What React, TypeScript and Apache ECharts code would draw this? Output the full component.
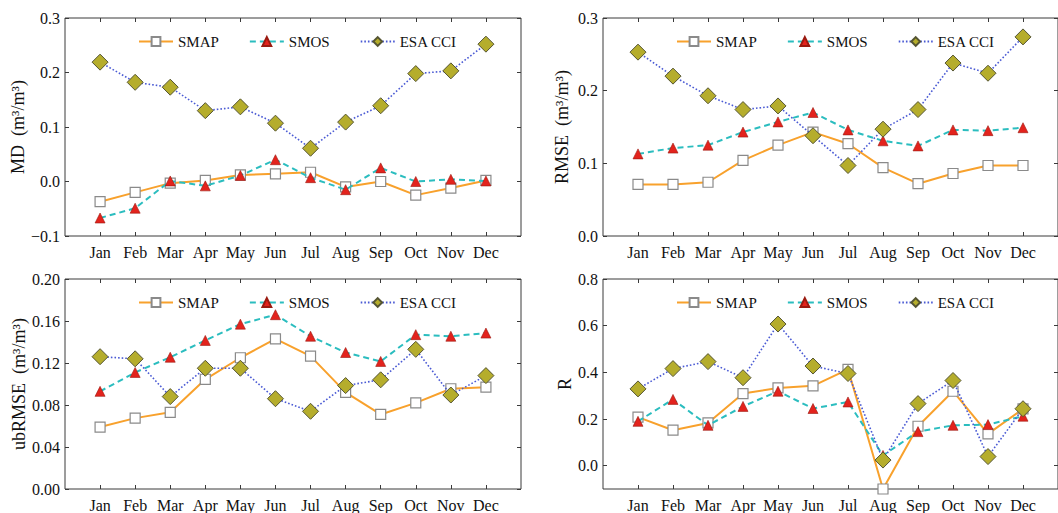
import React, { useEffect, useRef } from "react";
import * as echarts from "echarts";

const months = ["Jan", "Feb", "Mar", "Apr", "May", "Jun", "Jul", "Aug", "Sep", "Oct", "Nov", "Dec"];
const seriesNames = ["SMAP", "SMOS", "ESA CCI"];

// MD
const mdSMAP = [-0.037, -0.02, -0.003, 0.002, 0.012, 0.014, 0.017, -0.01, 0.0, -0.025, -0.012, 0.002];
const mdSMOS = [-0.067, -0.049, 0.001, -0.008, 0.011, 0.04, 0.007, -0.015, 0.025, 0.0, 0.004, 0.001];
const mdESA = [0.219, 0.182, 0.173, 0.13, 0.137, 0.107, 0.061, 0.109, 0.139, 0.198, 0.203, 0.252];
// RMSE
const rmseSMAP = [0.071, 0.071, 0.074, 0.104, 0.125, 0.143, 0.127, 0.094, 0.072, 0.086, 0.097, 0.097];
const rmseSMOS = [0.113, 0.121, 0.125, 0.143, 0.157, 0.17, 0.146, 0.131, 0.124, 0.146, 0.145, 0.149];
const rmseESA = [0.253, 0.22, 0.193, 0.174, 0.179, 0.138, 0.097, 0.147, 0.174, 0.238, 0.224, 0.274];
// ubRMSE
const ubSMAP = [0.059, 0.0675, 0.073, 0.1045, 0.125, 0.143, 0.1265, 0.092, 0.071, 0.082, 0.0955, 0.097];
const ubSMOS = [0.093, 0.111, 0.1255, 0.1415, 0.157, 0.166, 0.1455, 0.13, 0.1215, 0.147, 0.1455, 0.1485];
const ubESA = [0.126, 0.124, 0.088, 0.115, 0.115, 0.086, 0.074, 0.0985, 0.104, 0.133, 0.0895, 0.108];
// R
const rSMAP = [0.208, 0.152, 0.183, 0.309, 0.333, 0.342, 0.413, -0.1, 0.169, 0.319, 0.136, 0.243];
const rSMOS = [0.19, 0.284, 0.173, 0.254, 0.319, 0.245, 0.273, 0.044, 0.146, 0.173, 0.176, 0.212];
const rESA = [0.329, 0.416, 0.446, 0.377, 0.607, 0.427, 0.395, 0.024, 0.266, 0.365, 0.039, 0.244];

const mdTicks = [-0.1, 0.0, 0.1, 0.2, 0.3];
const rmseTicks = [0.0, 0.1, 0.2, 0.3];
const ubTicks = [0.0, 0.04, 0.08, 0.12, 0.16, 0.2];
const rTicks = [0.0, 0.2, 0.4, 0.6, 0.8];

const FONT = "'Liberation Serif', 'DejaVu Serif', serif";
const monthPos = months.map((_, i) => i + 1);

const toPairs = (arr: number[]) => arr.map((v, i) => [i + 1, v]);

const fmt = (d: number) => (v: number) => {
  const s = Math.abs(v).toFixed(d);
  return v < -1e-9 ? "\u2212" + s : s;
};

export default function App() {
  const ref = useRef<HTMLDivElement>(null);
  useEffect(() => {
    if (!ref.current) return;
    const chart = echarts.init(ref.current, null, { renderer: "svg" });

    const panels = [
      { left: 65, top: 18, height: 218, name: "MD  (m\u00b3/m\u00b3)", min: -0.1, max: 0.3, ticks: mdTicks, dec: 1, gap: 34, data: [mdSMAP, mdSMOS, mdESA] },
      { left: 603, top: 18, height: 218, name: "RMSE  (m\u00b3/m\u00b3)", min: 0, max: 0.3, ticks: rmseTicks, dec: 1, gap: 32, data: [rmseSMAP, rmseSMOS, rmseESA] },
      { left: 65, top: 279, height: 217, name: "ubRMSE  (m\u00b3/m\u00b3)", min: 0, max: 0.2, ticks: ubTicks, dec: 2, gap: 33, data: [ubSMAP, ubSMOS, ubESA] },
      { left: 603, top: 279, height: 217, name: "R", min: -0.1, max: 0.8, ticks: rTicks, dec: 1, gap: 28, data: [rSMAP, rSMOS, rESA] },
    ];

    const grid: any[] = [];
    const xAxis: any[] = [];
    const yAxis: any[] = [];
    const series: any[] = [];
    const legend: any[] = [];

    const styles = [
      {
        lineStyle: { color: "#f8a12c", width: 2, type: "solid" },
        symbol: "rect",
        symbolSize: 10,
        itemStyle: { color: "#ffffff", borderColor: "#8a8a8a", borderWidth: 1.2 },
      },
      {
        lineStyle: { color: "#2bbdbf", width: 2, type: [6, 4] },
        symbol: "triangle",
        symbolSize: 10,
        itemStyle: { color: "#e3231d", borderColor: "#9a1a10", borderWidth: 0.6 },
      },
      {
        lineStyle: { color: "#4a5ad4", width: 1.6, type: [1.6, 2] },
        symbol: "diamond",
        symbolSize: 16,
        itemStyle: { color: "#b5ad2c", borderColor: "#555533", borderWidth: 1 },
      },
    ];

    panels.forEach((p, gi) => {
      grid.push({
        left: p.left,
        top: p.top,
        width: 456,
        height: p.height,
        show: true,
        borderColor: "#3a3a3a",
        borderWidth: 1,
        backgroundColor: "transparent",
      });
      const tickStyle = { show: true, inside: true, length: 4, lineStyle: { color: "#3a3a3a", width: 1 } };
      xAxis.push({
        type: "value",
        gridIndex: gi,
        min: 0,
        max: 13,
        position: "bottom",
        axisLine: { show: false, onZero: false },
        splitLine: { show: false },
        axisTick: { ...tickStyle, customValues: monthPos },
        axisLabel: {
          customValues: monthPos,
          formatter: (v: number) => months[Math.round(v) - 1] ?? "",
          color: "#111",
          fontFamily: FONT,
          fontSize: 16,
          margin: 8,
        },
      });
      xAxis.push({
        type: "value",
        gridIndex: gi,
        min: 0,
        max: 13,
        position: "top",
        axisLine: { show: false, onZero: false },
        splitLine: { show: false },
        axisTick: { ...tickStyle, customValues: monthPos },
        axisLabel: { show: false },
      });
      yAxis.push({
        type: "value",
        gridIndex: gi,
        min: p.min,
        max: p.max,
        position: "left",
        name: p.name,
        nameLocation: "middle",
        nameGap: p.gap,
        nameTextStyle: { fontFamily: FONT, fontSize: 18, color: "#111" },
        axisLine: { show: false, onZero: false },
        splitLine: { show: false },
        axisTick: { ...tickStyle, customValues: p.ticks },
        axisLabel: {
          customValues: p.ticks,
          formatter: fmt(p.dec),
          color: "#111",
          fontFamily: FONT,
          fontSize: 16,
          margin: 5,
        },
      });
      yAxis.push({
        type: "value",
        gridIndex: gi,
        min: p.min,
        max: p.max,
        position: "right",
        axisLine: { show: false, onZero: false },
        splitLine: { show: false },
        axisTick: { ...tickStyle, customValues: p.ticks },
        axisLabel: { show: false },
      });

      p.data.forEach((arr, si) => {
        const st = styles[si];
        series.push({
          type: "line",
          name: seriesNames[si],
          xAxisIndex: gi * 2,
          yAxisIndex: gi * 2,
          data: toPairs(arr),
          symbol: st.symbol,
          symbolSize: st.symbolSize,
          showAllSymbol: true,
          lineStyle: st.lineStyle,
          itemStyle: st.itemStyle,
          emphasis: { disabled: true },
          clip: true,
          z: 2 + si,
        });
      });

      legend.push({
        data: seriesNames,
        left: p.left + 68,
        top: p.top + 11,
        orient: "horizontal",
        itemWidth: 34,
        itemHeight: 11,
        itemGap: 30,
        selectedMode: false,
        textStyle: { fontFamily: FONT, fontSize: 15, color: "#111" },
      });
    });

    chart.setOption({
      animation: false,
      backgroundColor: "#ffffff",
      textStyle: { fontFamily: FONT },
      grid,
      xAxis,
      yAxis,
      legend,
      series,
    });

    return () => chart.dispose();
  }, []);

  return (
    <div
      ref={ref}
      style={{ position: "fixed", left: 0, top: 0, width: 1058, height: 513, background: "#fff" }}
    />
  );
}
